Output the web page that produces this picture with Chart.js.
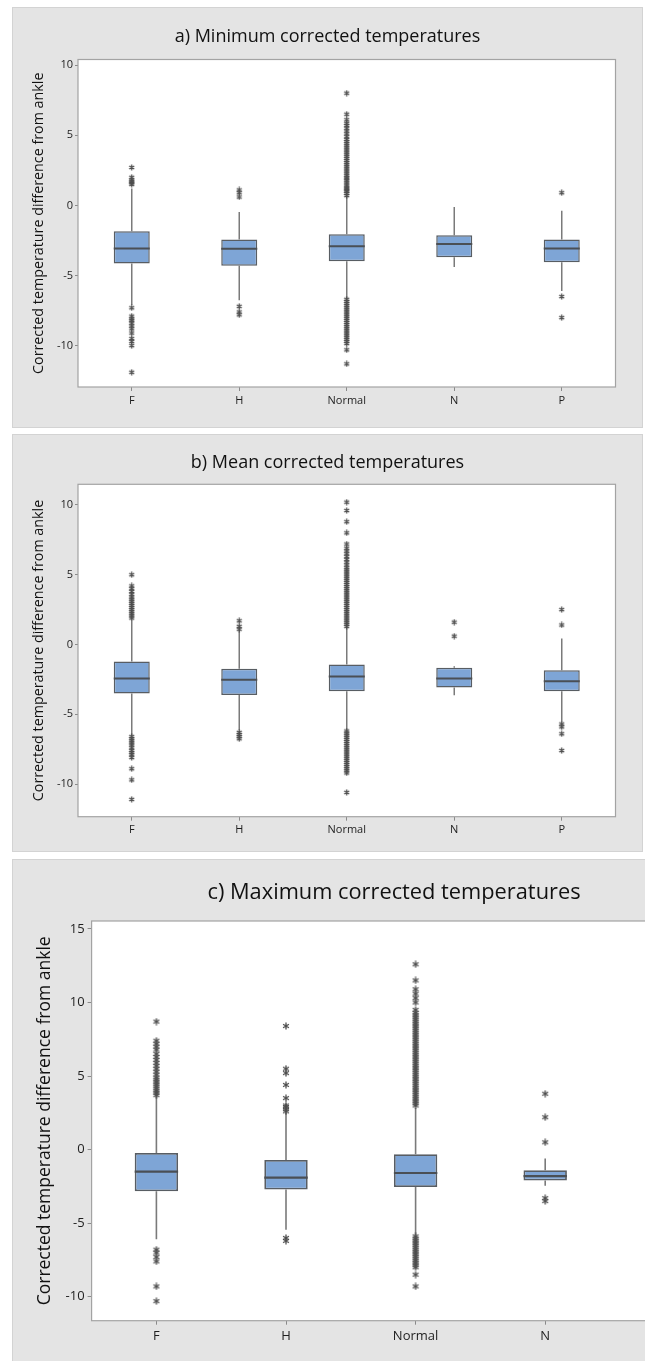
<!DOCTYPE html>
<html>
<head>
<meta charset="utf-8">
<script src="https://cdn.jsdelivr.net/npm/chart.js@4.4.1/dist/chart.umd.min.js"></script>
<style>
  html, body { margin: 0; padding: 0; background: #fff; }
  body { width: 645px; height: 1361px; overflow: hidden; position: relative; }
  .panel { position: absolute; background: #e4e4e4; box-shadow: inset 0 0 0 1px #d3d3d3; }
  .panel canvas { position: absolute; left: 0; top: 0; }
</style>
</head>
<body>
<div class="panel" style="left:12px;top:7px;width:631px;height:421px"><canvas id="chartMin" width="631" height="421"></canvas></div>
<div class="panel" style="left:12px;top:434px;width:631px;height:418px"><canvas id="chartMean" width="631" height="418"></canvas></div>
<div class="panel" style="left:12px;top:859px;width:764px;height:504px"><canvas id="chartMax" width="764" height="502"></canvas></div>
<script>
// categories
const groups = ['F', 'H', 'Normal', 'N', 'P'];

// a) minimum
const minQ1   = [-4.15, -4.31, -3.98, -3.70, -4.05];
const minMed  = [-3.08, -3.10, -2.91, -2.75, -3.08];
const minQ3   = [-1.85, -2.44, -2.06, -2.13, -2.44];
const minLow  = [-7.10, -6.77, -6.65, -4.40, -6.10];
const minHigh = [1.20, -0.47, 0.64, -0.12, -0.38];
const minOutliers = [
  [2.7, 2.0, 1.8, 1.7, 1.6, 1.5, -7.3, -7.9, -8.1, -8.2, -8.4, -8.6, -8.8, -9.1, -9.5, -9.7, -10.0, -11.9],
  [1.1, 0.9, 0.6, -7.2, -7.6, -7.8],
  [0.7, 0.85, 1.0, 1.1, 1.2, 1.3, 1.45, 1.6, 1.75, 1.9, 2.0, 2.15, 2.3, 2.45, 2.6, 2.75, 2.9, 3.05, 3.2,
   3.35, 3.5, 3.65, 3.8, 3.95, 4.1, 4.25, 4.4, 4.55, 4.7, 4.9, 5.1, 5.3, 5.5, 5.7, 5.85, 6.1, 6.5, 8.0,
   -6.7, -6.85, -7.0, -7.15, -7.3, -7.45, -7.6, -7.75, -7.9, -8.05, -8.2, -8.35, -8.5, -8.65, -8.8,
   -8.95, -9.1, -9.25, -9.4, -9.55, -9.7, -9.85, -10.3, -11.3],
  [],
  [0.9, -6.5, -8.0]
];

// b) mean
const meanQ1   = [-3.51, -3.61, -3.35, -3.08, -3.35];
const meanMed  = [-2.44, -2.53, -2.29, -2.44, -2.63];
const meanQ3   = [-1.22, -1.74, -1.43, -1.67, -1.84];
const meanLow  = [-6.50, -6.14, -6.14, -3.63, -5.54];
const meanHigh = [1.74, 1.03, 1.27, -1.55, 0.43];
const meanOutliers = [
  [1.9, 2.05, 2.2, 2.35, 2.5, 2.65, 2.8, 2.95, 3.1, 3.25, 3.4, 3.6, 3.8, 4.0, 4.2, 5.0,
   -6.6, -6.75, -6.9, -7.05, -7.2, -7.4, -7.6, -7.75, -7.9, -8.1, -8.9, -9.7, -11.1],
  [1.1, 1.3, 1.7, -6.3, -6.45, -6.6, -6.75],
  [1.3, 1.45, 1.6, 1.75, 1.9, 2.05, 2.2, 2.35, 2.5, 2.65, 2.8, 2.95, 3.1, 3.25, 3.4, 3.55, 3.7, 3.85,
   4.0, 4.15, 4.3, 4.45, 4.6, 4.75, 4.9, 5.05, 5.2, 5.35, 5.5, 5.7, 5.9, 6.1, 6.3, 6.5, 6.7, 6.9, 7.2,
   8.0, 8.8, 9.6, 10.2,
   -6.2, -6.35, -6.5, -6.65, -6.8, -6.95, -7.1, -7.25, -7.4, -7.55, -7.7, -7.85, -8.0, -8.15, -8.3,
   -8.45, -8.6, -8.75, -8.9, -9.05, -9.2, -10.6],
  [0.6, 1.6],
  [1.4, 2.5, -5.7, -5.9, -6.4, -7.6]
];

// c) maximum (P is cut off at the right edge)
const maxQ1   = [-2.83, -2.72, -2.54, -2.10, null];
const maxMed  = [-1.50, -1.90, -1.59, -1.80, null];
const maxQ3   = [-0.23, -0.70, -0.32, -1.40, null];
const maxLow  = [-6.10, -5.44, -5.80, -2.45, null];
const maxHigh = [3.63, 2.50, 2.83, -0.60, null];
const maxOutliers = [
  [3.7, 3.85, 4.0, 4.15, 4.3, 4.45, 4.6, 4.75, 4.9, 5.1, 5.3, 5.5, 5.7, 5.9, 6.1, 6.3, 6.5, 6.8, 7.0,
   7.2, 7.4, 8.7, -6.8, -7.0, -7.3, -7.6, -9.3, -10.3],
  [2.6, 2.75, 2.9, 3.0, 3.5, 4.4, 5.2, 5.5, 8.4, -6.0, -6.2],
  [3.0, 3.15, 3.3, 3.45, 3.6, 3.75, 3.9, 4.05, 4.2, 4.35, 4.5, 4.65, 4.8, 4.95, 5.1, 5.25, 5.4, 5.55,
   5.7, 5.85, 6.0, 6.15, 6.3, 6.45, 6.6, 6.75, 6.9, 7.05, 7.2, 7.35, 7.5, 7.65, 7.8, 7.95, 8.1, 8.25,
   8.4, 8.55, 8.7, 8.85, 9.0, 9.15, 9.3, 9.5, 10.0, 10.3, 10.6, 10.9, 11.5, 12.6,
   -5.9, -6.05, -6.2, -6.35, -6.5, -6.65, -6.8, -6.95, -7.1, -7.25, -7.4, -7.55, -7.7, -7.85, -8.0,
   -8.5, -9.3],
  [3.8, 2.2, 0.5, -3.3, -3.5],
  []
];

const FONT = '"Open Sans", "Noto Sans", sans-serif';
const yTitleText = 'Corrected temperature difference from ankle';

function asterisk(size) {
  const c = document.createElement('canvas');
  c.width = c.height = size;
  const g = c.getContext('2d');
  g.strokeStyle = '#4d4d4d';
  g.lineWidth = 1.3;
  const m = size / 2, r = size / 2 - 0.6;
  g.beginPath();
  [90, 30, -30].forEach(a => {
    const t = a * Math.PI / 180;
    g.moveTo(m - r * Math.cos(t), m - r * Math.sin(t));
    g.lineTo(m + r * Math.cos(t), m + r * Math.sin(t));
  });
  g.stroke();
  return c;
}

// whiskers, medians, plot frame
const boxParts = {
  id: 'boxParts',
  beforeDraw(chart) {
    const a = chart.chartArea, ctx = chart.ctx;
    ctx.save();
    ctx.fillStyle = '#ffffff';
    ctx.fillRect(a.left, a.top, a.right - a.left, a.bottom - a.top);
    ctx.restore();
  },
  beforeDatasetsDraw(chart, args, opts) {
    const ctx = chart.ctx, y = chart.scales.y;
    const bars = chart.getDatasetMeta(0).data;
    ctx.save();
    ctx.strokeStyle = '#7a7a7a';
    ctx.lineWidth = opts.whiskerWidth;
    bars.forEach((bar, i) => {
      if (opts.low[i] == null) return;
      ctx.beginPath();
      ctx.moveTo(bar.x, y.getPixelForValue(opts.low[i]));
      ctx.lineTo(bar.x, y.getPixelForValue(opts.q1[i]));
      ctx.moveTo(bar.x, y.getPixelForValue(opts.q3[i]));
      ctx.lineTo(bar.x, y.getPixelForValue(opts.high[i]));
      ctx.stroke();
    });
    ctx.restore();
  },
  afterDatasetsDraw(chart, args, opts) {
    const ctx = chart.ctx, y = chart.scales.y, a = chart.chartArea;
    const bars = chart.getDatasetMeta(0).data;
    ctx.save();
    ctx.strokeStyle = '#4a4f55';
    ctx.lineWidth = opts.medianWidth;
    bars.forEach((bar, i) => {
      if (opts.med[i] == null) return;
      const py = y.getPixelForValue(opts.med[i]);
      ctx.beginPath();
      ctx.moveTo(bar.x - bar.width / 2, py);
      ctx.lineTo(bar.x + bar.width / 2, py);
      ctx.stroke();
    });
    ctx.strokeStyle = '#a3a3a3';
    ctx.lineWidth = 1.2;
    ctx.strokeRect(a.left, a.top, a.right - a.left, a.bottom - a.top);
    ctx.restore();
  }
};

function makePanel(id, L, d) {
  const canvas = document.getElementById(id);
  const W = canvas.width, H = canvas.height;
  const lh = L.titleSize * 1.2;
  const points = [];
  d.outliers.forEach((list, i) => list.forEach(v => points.push({ x: groups[i], y: v })));

  new Chart(canvas, {
    type: 'bar',
    data: {
      labels: groups,
      datasets: [{
        data: d.q1.map((v, i) => v == null ? null : [v, d.q3[i]]),
        backgroundColor: '#7ea5d6',
        borderColor: '#585d63',
        borderWidth: L.boxBorder,
        borderSkipped: false,
        categoryPercentage: 1,
        barPercentage: 0.335
      }, {
        type: 'line',
        data: points,
        showLine: false,
        pointStyle: asterisk(L.star),
        pointRadius: 4
      }]
    },
    options: {
      responsive: false,
      animation: false,
      devicePixelRatio: 1,
      plugins: {
        legend: { display: false },
        tooltip: { enabled: false },
        title: {
          display: true,
          text: L.title,
          color: '#111',
          font: { family: FONT, size: L.titleSize, weight: 'normal', lineHeight: 1.2 },
          padding: { top: L.titleY - lh / 2, bottom: L.plotTop - L.titleY - lh / 2 }
        },
        boxParts: {
          q1: d.q1, q3: d.q3, med: d.med, low: d.low, high: d.high,
          whiskerWidth: L.whisker, medianWidth: L.median
        }
      },
      scales: {
        x: {
          type: 'category',
          offset: true,
          border: { display: false },
          grid: { offset: false, drawOnChartArea: false, drawTicks: true, tickLength: 4, color: '#8a8a8a' },
          ticks: { color: '#1e1e1e', font: { family: FONT, size: L.tickSize }, padding: L.xPad },
          afterFit(s) { s.height = H - L.plotBottom; }
        },
        y: {
          type: 'linear',
          min: L.yMin,
          max: L.yMax,
          border: { display: false },
          grid: { drawOnChartArea: false, drawTicks: true, tickLength: L.yTick, color: '#8a8a8a' },
          ticks: { stepSize: 5, includeBounds: false, color: '#1e1e1e', font: { family: FONT, size: L.tickSize }, padding: L.yPad },
          title: {
            display: true,
            text: yTitleText,
            color: '#111',
            font: { family: FONT, size: L.yTitleSize, lineHeight: 1.2 },
            padding: { top: L.yTitleX - L.yTitleSize * 0.6, bottom: 0 }
          },
          afterFit(s) { s.width = L.plotLeft; }
        },
        // empty right margin, so the title stays centred on the whole panel
        yRight: {
          type: 'linear',
          position: 'right',
          min: L.yMin,
          max: L.yMax,
          border: { display: false },
          grid: { display: false },
          ticks: { display: false },
          afterFit(s) { s.width = W - L.plotRight; }
        }
      }
    },
    plugins: [boxParts]
  });
}

makePanel('chartMin', {
  title: 'a) Minimum corrected temperatures', titleSize: 18, titleY: 29.4,
  plotLeft: 66, plotRight: 603.5, plotTop: 52.5, plotBottom: 380,
  yMin: -12.95, yMax: 10.4, yTitleX: 27, yTitleSize: 14.3, tickSize: 11,
  xPad: 3, yPad: 2, yTick: 3, star: 7, boxBorder: 1.5, whisker: 1.5, median: 2
}, { q1: minQ1, med: minMed, q3: minQ3, low: minLow, high: minHigh, outliers: minOutliers });

makePanel('chartMean', {
  title: 'b) Mean corrected temperatures', titleSize: 18, titleY: 29,
  plotLeft: 66, plotRight: 603.5, plotTop: 50.3, plotBottom: 382.7,
  yMin: -12.34, yMax: 11.48, yTitleX: 27, yTitleSize: 14.3, tickSize: 11,
  xPad: 3, yPad: 2, yTick: 3, star: 7, boxBorder: 1.5, whisker: 1.5, median: 2
}, { q1: meanQ1, med: meanMed, q3: meanQ3, low: meanLow, high: meanHigh, outliers: meanOutliers });

makePanel('chartMax', {
  title: 'c) Maximum corrected temperatures', titleSize: 21.8, titleY: 34,
  plotLeft: 79.6, plotRight: 727.6, plotTop: 62, plotBottom: 461.7,
  yMin: -11.63, yMax: 15.54, yTitleX: 33, yTitleSize: 17.5, tickSize: 13,
  xPad: 4, yPad: 3, yTick: 4, star: 8, boxBorder: 1.8, whisker: 1.6, median: 2.2
}, { q1: maxQ1, med: maxMed, q3: maxQ3, low: maxLow, high: maxHigh, outliers: maxOutliers });
</script>
</body>
</html>
